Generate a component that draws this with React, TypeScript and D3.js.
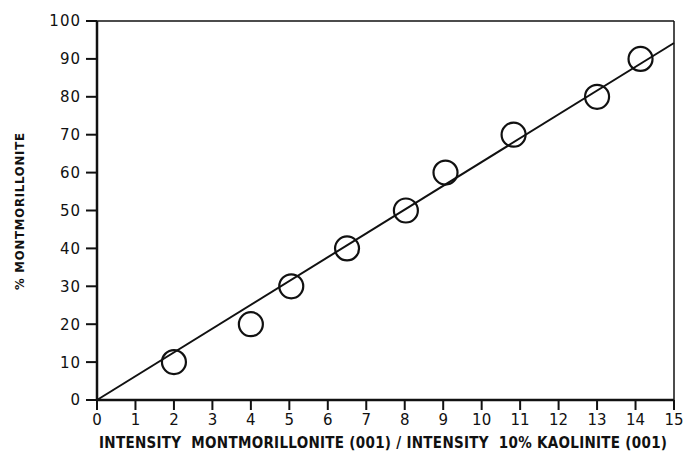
import { useEffect, useRef } from 'react';
import * as d3 from 'd3';

const xTicks = [0, 1, 2, 3, 4, 5, 6, 7, 8, 9, 10, 11, 12, 13, 14, 15];
const yTicks = [0, 10, 20, 30, 40, 50, 60, 70, 80, 90, 100];
// intensity ratio vs % montmorillonite
const ratio = [2, 4, 5.05, 6.5, 8.03, 9.06, 10.83, 13.0, 14.13];
const percent = [10, 20, 30, 40, 50, 60, 70, 80, 90];
const fitLine = [
  [0, 0],
  [15, 94.2],
];
const xTitle = 'INTENSITY  MONTMORILLONITE (001) / INTENSITY  10% KAOLINITE (001)';
const yTitle = '% MONTMORILLONITE';

export default function App() {
  const svgRef = useRef<SVGSVGElement>(null);

  useEffect(() => {
    const svg = d3.select(svgRef.current);
    svg.selectAll('*').remove();

    const left = 97, right = 674, top = 21, bottom = 400;
    const x = d3.scaleLinear().domain([0, 15]).range([left, right]);
    const y = d3.scaleLinear().domain([0, 100]).range([bottom, top]);

    // frame
    svg.append('line').attr('x1', left).attr('x2', right).attr('y1', top).attr('y2', top)
      .attr('stroke', '#111').attr('stroke-width', 1.5);
    svg.append('line').attr('x1', right).attr('x2', right).attr('y1', top).attr('y2', bottom)
      .attr('stroke', '#111').attr('stroke-width', 1.5);
    svg.append('line').attr('x1', left).attr('x2', left).attr('y1', top).attr('y2', bottom + 1)
      .attr('stroke', '#111').attr('stroke-width', 2.5);
    svg.append('line').attr('x1', left - 1).attr('x2', right).attr('y1', bottom).attr('y2', bottom)
      .attr('stroke', '#111').attr('stroke-width', 2.5);

    // y ticks
    const yt = svg.append('g');
    yt.selectAll('line').data(yTicks).join('line')
      .attr('x1', left - 11).attr('x2', left)
      .attr('y1', d => y(d)).attr('y2', d => y(d))
      .attr('stroke', '#111').attr('stroke-width', 2);
    yt.selectAll('text').data(yTicks).join('text')
      .attr('x', left - 16).attr('y', d => y(d))
      .attr('dy', '0.36em')
      .attr('text-anchor', 'end')
      .style('font-family', 'DejaVu Sans')
      .style('font-size', '15px')
      .style('letter-spacing', '1px')
      .attr('fill', '#111')
      .text(d => d);

    // x ticks
    const xt = svg.append('g');
    xt.selectAll('line').data(xTicks).join('line')
      .attr('x1', d => x(d)).attr('x2', d => x(d))
      .attr('y1', bottom).attr('y2', bottom + 10)
      .attr('stroke', '#111').attr('stroke-width', 2);
    xt.selectAll('text').data(xTicks).join('text')
      .attr('x', d => x(d)).attr('y', 420)
      .attr('dy', '0.36em')
      .attr('text-anchor', 'middle')
      .style('font-family', 'DejaVu Sans')
      .style('font-size', '15px')
      .attr('fill', '#111')
      .text(d => d);

    // regression line
    const line = d3.line<number[]>().x(d => x(d[0])).y(d => y(d[1]));
    svg.append('path').datum(fitLine)
      .attr('d', line)
      .attr('fill', 'none')
      .attr('stroke', '#111')
      .attr('stroke-width', 2);

    // points
    svg.append('g').selectAll('circle').data(ratio).join('circle')
      .attr('cx', d => x(d))
      .attr('cy', (_, i) => y(percent[i]))
      .attr('r', 12)
      .attr('fill', 'none')
      .attr('stroke', '#111')
      .attr('stroke-width', 2.2);

    // axis titles
    svg.append('text')
      .attr('x', 99).attr('y', 448)
      .attr('textLength', 568)
      .attr('lengthAdjust', 'spacing')
      .style('font-family', 'Liberation Sans Narrow, DejaVu Sans Condensed')
      .style('font-weight', 'bold')
      .style('font-size', '15px')
      .style('white-space', 'pre')
      .attr('fill', '#111')
      .text(xTitle);

    svg.append('text')
      .attr('transform', `translate(24, 290) rotate(-90)`)
      .attr('textLength', 157)
      .attr('lengthAdjust', 'spacing')
      .style('font-family', 'Liberation Sans Narrow, DejaVu Sans Condensed')
      .style('font-weight', 'bold')
      .style('font-size', '13px')
      .attr('fill', '#111')
      .text(yTitle);
  }, []);

  return (
    <svg
      ref={svgRef}
      width={683}
      height={457}
      style={{ position: 'absolute', left: 0, top: 0, background: '#fff' }}
    />
  );
}
